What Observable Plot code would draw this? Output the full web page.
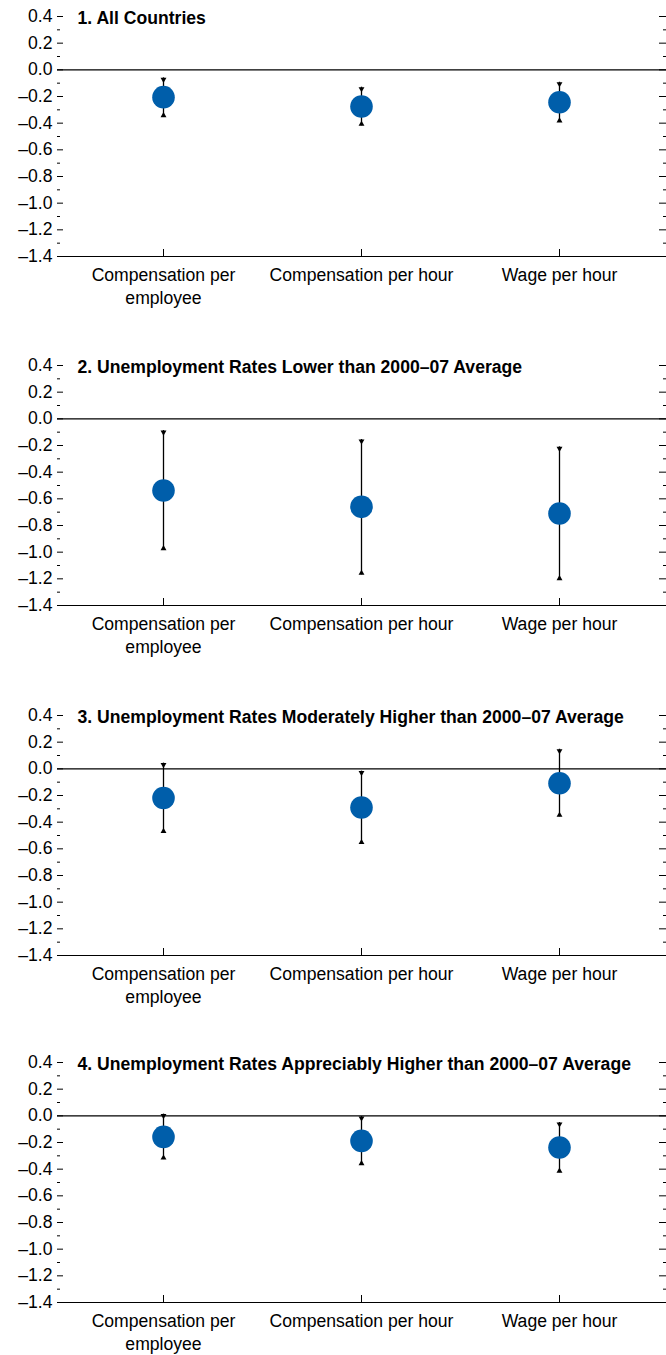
<!DOCTYPE html>
<html><head><meta charset="utf-8">
<script src="https://cdn.jsdelivr.net/npm/d3@7"></script>
<script src="https://cdn.jsdelivr.net/npm/@observablehq/plot@0.6"></script>
<style>
html,body{margin:0;padding:0;background:#fff;}
#chart svg{display:block;}
</style></head><body><div id="chart"></div>
<script>
// ---- data ----
const measures = ["Compensation per employee", "Compensation per hour", "Wage per hour"];
const measureLabels = ["Compensation per\nemployee", "Compensation per hour", "Wage per hour"];
const panelTitles = [
  "1. All Countries",
  "2. Unemployment Rates Lower than 2000–07 Average",
  "3. Unemployment Rates Moderately Higher than 2000–07 Average",
  "4. Unemployment Rates Appreciably Higher than 2000–07 Average"
];
const estimates = [
  [-0.205, -0.275, -0.243],
  [-0.537, -0.660, -0.710],
  [-0.219, -0.290, -0.108],
  [-0.158, -0.188, -0.238]
];
const upperBound = [
  [-0.060, -0.130, -0.093],
  [-0.088, -0.155, -0.210],
  [0.043, -0.017, 0.147],
  [0.013, -0.005, -0.050]
];
const lowerBound = [
  [-0.355, -0.420, -0.394],
  [-0.985, -1.170, -1.210],
  [-0.481, -0.564, -0.360],
  [-0.328, -0.370, -0.426]
];
const yDomain = [-1.4, 0.4];
const majorTicks = [0.4, 0.2, 0.0, -0.2, -0.4, -0.6, -0.8, -1.0, -1.2, -1.4];
const minorTicks = [0.3, 0.1, -0.1, -0.3, -0.5, -0.7, -0.9, -1.1, -1.3];

// ---- layout / style ----
const panelHeights = [349, 350, 347, 309];
const FONT = '"Liberation Sans", Arial, sans-serif';
const FS = 17.6;
const DOT = "#005EAA";
const fmt = d => d3.format(".1f")(d).replace("−", "–");
const labelOf = new Map(measures.map((m, i) => [m, measureLabels[i]]));

const chart = document.getElementById("chart");
panelTitles.forEach((title, p) => {
  const rows = measures.map((m, i) => ({
    measure: m, est: estimates[p][i], hi: upperBound[p][i], lo: lowerBound[p][i]
  }));
  const h = panelHeights[p];
  const plot = Plot.plot({
    width: 666,
    height: h,
    marginTop: 16,
    marginBottom: h - 256,
    marginLeft: 57,
    marginRight: 0,
    style: {fontFamily: FONT, fontSize: FS + "px", color: "#000", background: "#fff"},
    x: {type: "point", domain: measures, padding: 0.5, insetLeft: 6, insetRight: 8},
    y: {domain: yDomain},
    marks: [
      // y axis left: labels, major & minor inward ticks
      Plot.axisY(majorTicks, {anchor: "left", tickSize: 0, tickPadding: 5, tickFormat: fmt, label: null, fontSize: FS}),
      Plot.axisY(majorTicks, {anchor: "left", tickSize: -6, fill: "none", label: null}),
      Plot.axisY(minorTicks, {anchor: "left", tickSize: -3, fill: "none", label: null}),
      // right side ticks
      Plot.axisY(majorTicks, {anchor: "right", tickSize: -8, fill: "none", label: null}),
      Plot.axisY(minorTicks, {anchor: "right", tickSize: -4, fill: "none", label: null}),
      // x axis
      Plot.ruleY([yDomain[0]], {stroke: "#000", strokeWidth: 1.2}),
      Plot.axisX({anchor: "bottom", tickSize: -7, fill: "none", label: null}),
      Plot.axisX({anchor: "bottom", tickSize: 0, tickPadding: 8, tickFormat: d => labelOf.get(d), lineHeight: 1.3, label: null, fontSize: FS}),
      // zero line
      Plot.ruleY([0], {stroke: "#000", strokeWidth: 1.2}),
      // error bars
      Plot.ruleX(rows, {x: "measure", y1: "lo", y2: "hi", stroke: "#000", strokeWidth: 1.3}),
      Plot.dot(rows, {x: "measure", y: "hi", symbol: "triangle", rotate: 180, r: 2.2, fill: "#000", dy: 1.7}),
      Plot.dot(rows, {x: "measure", y: "lo", symbol: "triangle", r: 2.2, fill: "#000", dy: -1.7}),
      // point estimates
      Plot.dot(rows, {x: "measure", y: "est", r: 11.3, fill: DOT, stroke: "none"}),
      // panel title
      Plot.text([title], {text: d => d, frameAnchor: "top-left", dx: 20, dy: 2, textAnchor: "start", lineAnchor: "middle", fontWeight: "bold", fontSize: FS, fill: "#000"})
    ]
  });
  chart.appendChild(plot);
});
</script>
</body></html>
